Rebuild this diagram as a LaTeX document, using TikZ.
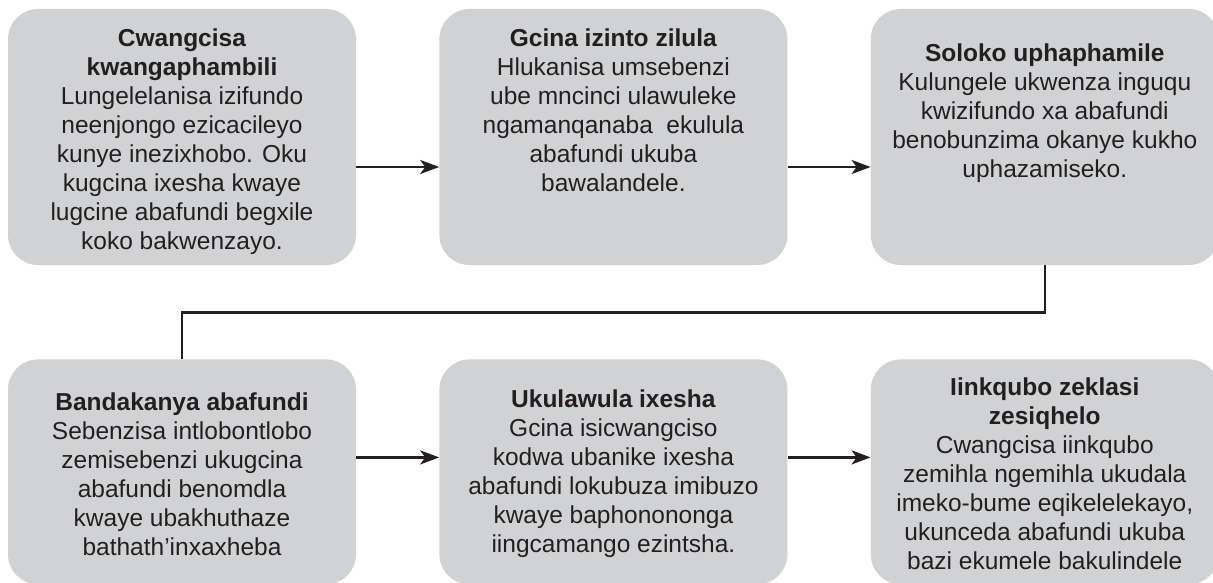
\documentclass[tikz,border=0pt]{standalone}
\usepackage{fontspec}
\setmainfont{Liberation Sans}
\usetikzlibrary{positioning, arrows.meta}
\definecolor{boxColor}{HTML}{D1D2D4}
\definecolor{inkColor}{HTML}{231F20}
\tikzstyle{stepbox}=[rectangle, rounded corners=30pt, fill=boxColor,
minimum width=348pt, minimum height=256pt, inner sep=0pt]
\tikzstyle{lowbox}=[stepbox, minimum height=225pt]
\tikzstyle{steptext}=[align=center, text=inkColor, inner sep=0pt,
font=\fontsize{24.5pt}{29pt}\selectfont]
\tikzstyle{arrow}=[-{Stealth[length=19pt, width=14pt, inset=5pt]}, line width=2.6pt, draw=inkColor]
\tikzstyle{link}=[line width=2.6pt, draw=inkColor]

\begin{document}
\begin{tikzpicture}[x=1pt, y=-1pt]
      \useasboundingbox (0,0) rectangle (1213,583);
      \node(plan) [stepbox] at (182,137) {};
      \node(simple) [stepbox, right=83pt of plan] {};
      \node(aware) [stepbox, right=83pt of simple] {};
      \node(engage) [lowbox, below=94pt of plan] {};
      \node(pace) [lowbox, right=83pt of engage] {};
      \node(routine) [lowbox, right=83pt of pace] {};
      \node(planText) [steptext] at ([yshift=-5pt]plan.center) {\textbf{Cwangcisa}\\ \textbf{kwangaphambili}\\
        Lungelelanisa izifundo\\ neenjongo ezicacileyo\\ kunye inezixhobo. Oku\\
        kugcina ixesha kwaye\\ lugcine abafundi begxile\\ koko bakwenzayo.};
      \node(simpleText) [steptext] at ([yshift=27pt]simple.center) {\textbf{Gcina izinto zilula}\\
        Hlukanisa umsebenzi\\ ube mncinci ulawuleke\\ ngamanqanaba~ ekulula\\
        abafundi ukuba\\ bawalandele.};
      \node(awareText) [steptext] at ([yshift=24pt]aware.center) {\textbf{Soloko uphaphamile}\\
        Kulungele ukwenza inguqu\\ kwizifundo xa abafundi\\ benobunzima okanye kukho\\
        uphazamiseko.};
      \node(engageText) [steptext] at ([yshift=-2pt]engage.center) {\textbf{Bandakanya abafundi}\\
        Sebenzisa intlobontlobo\\ zemisebenzi ukugcina\\ abafundi benomdla\\
        kwaye ubakhuthaze\\ bathath’inxaxheba};
      \node(paceText) [steptext] at ([yshift=-2pt]pace.center) {\textbf{Ukulawula ixesha}\\
        Gcina isicwangciso\\ kodwa ubanike ixesha\\ abafundi lokubuza imibuzo\\
        kwaye baphonononga\\ iingcamango ezintsha.};
      \node(routineText) [steptext] at ([yshift=-2pt]routine.center) {\textbf{Iinkqubo zeklasi}\\ \textbf{zesiqhelo}\\
        Cwangcisa iinkqubo\\ zemihla ngemihla ukudala\\ imeko-bume eqikelelekayo,\\
        ukunceda abafundi ukuba\\ bazi ekumele bakulindele};
      \draw [arrow] ([yshift=-30pt]plan.east) -- ([yshift=-30pt]simple.west);
      \draw [arrow] ([yshift=-30pt]simple.east) -- ([yshift=-30pt]aware.west);
      \draw [link] (aware.south) -- ++(0,47) -| (engage.north);
      \draw [arrow] ([yshift=14.5pt]engage.east) -- ([yshift=14.5pt]pace.west);
      \draw [arrow] ([yshift=14.5pt]pace.east) -- ([yshift=14.5pt]routine.west);
    \end{tikzpicture}
\end{document}
